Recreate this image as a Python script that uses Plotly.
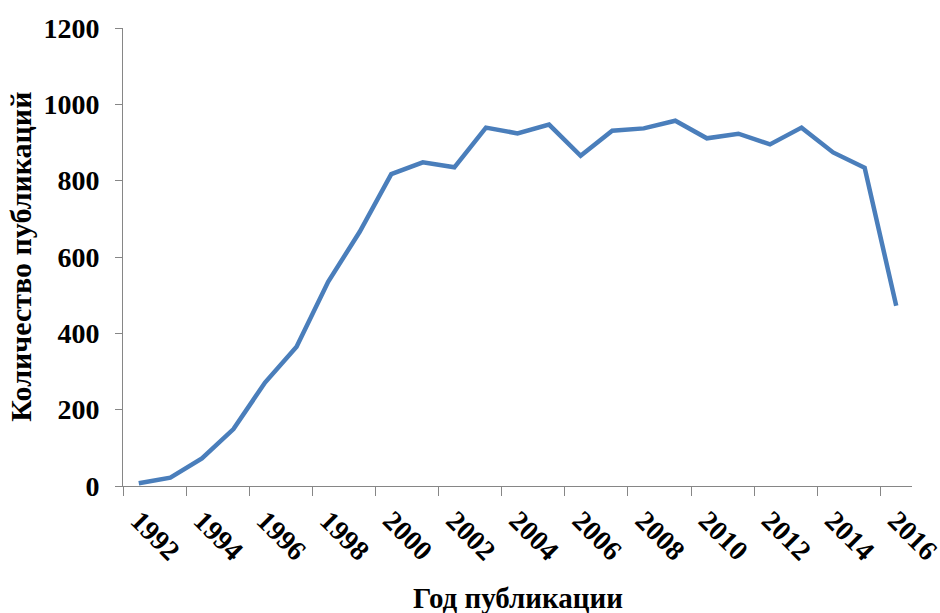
import plotly.graph_objects as go

years = [str(y) for y in range(1992, 2017)]
publications = [7, 22, 72, 149, 271, 365, 535, 666, 817, 848, 835, 939, 924, 947,
                865, 931, 937, 957, 911, 923, 895, 939, 874, 834, 472]
y_ticks = [0, 200, 400, 600, 800, 1000, 1200]

FONT = "Liberation Serif"

fig = go.Figure()
fig.add_trace(go.Scatter(
    x=years, y=publications, mode="lines",
    line=dict(color="#4A7EBB", width=4.5),
    showlegend=False,
))

fig.update_layout(
    width=940, height=613,
    paper_bgcolor="white", plot_bgcolor="white",
    margin=dict(l=123, r=28, t=28, b=127),
    font=dict(family=FONT, color="black"),
)
fig.update_xaxes(
    type="category",
    automargin=False,
    tickson="boundaries",
    tickmode="linear", tick0=0, dtick=2,
    tickangle=45,
    ticks="outside", ticklen=9, tickcolor="#868686",
    showline=True, linecolor="#868686", linewidth=1,
    showgrid=False, zeroline=False,
    ticklabelstandoff=6,
    tickfont=dict(family=FONT, size=28, color="black", weight="bold"),
    range=[-0.5, 24.5],
)
fig.update_yaxes(
    automargin=False,
    range=[0, 1200],
    tickmode="array", tickvals=y_ticks, ticktext=[str(v) for v in y_ticks],
    ticks="outside", ticklen=7, tickcolor="#868686",
    showline=True, linecolor="#868686", linewidth=1,
    showgrid=False, zeroline=False,
    ticklabelstandoff=10,
    tickfont=dict(family=FONT, size=28, color="black", weight="bold"),
)
fig.add_annotation(
    text="<b>Количество публикаций</b>", xref="paper", yref="paper",
    x=-0.131, y=0.5, xanchor="center", yanchor="middle", textangle=-90,
    showarrow=False, font=dict(family=FONT, size=30, color="black"),
)
fig.add_annotation(
    text="<b>Год публикации</b>", xref="paper", yref="paper",
    x=0.5, y=-0.2445, xanchor="center", yanchor="middle",
    showarrow=False, font=dict(family=FONT, size=29, color="black"),
)

fig.write_html("out.html", config={"displayModeBar": False},
               post_script="document.body.style.margin='0';")
